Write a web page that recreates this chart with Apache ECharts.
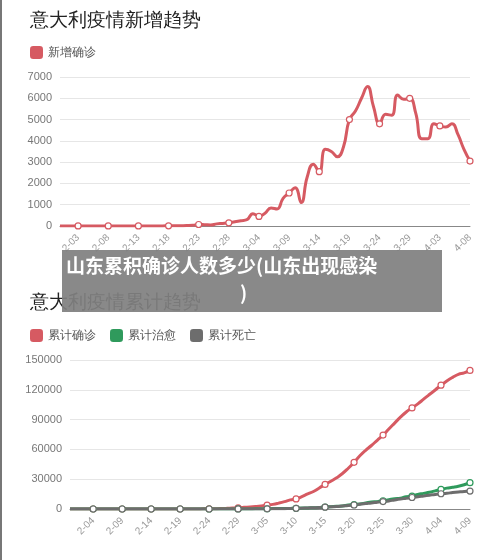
<!DOCTYPE html>
<html><head><meta charset="utf-8">
<script src="https://cdn.jsdelivr.net/npm/echarts@6/dist/echarts.min.js"></script>
<style>html,body{margin:0;padding:0;background:#fff}#c{width:500px;height:560px}</style>
</head><body><div id="c"></div>
<script>
function dates(startM, startD, n){var r=[],m=startM,d=startD,len={1:31,2:29,3:31,4:30};for(var i=0;i<n;i++){r.push(m+'-'+(d<10?'0'+d:d));d++;if(d>len[m]){d=1;m++;}}return r;}
const dailyDates = dates(1,31,69);   // 1-31 .. 4-08
const newCases = [0,0,0,3,2,1,3,2,3,5,3,4,4,5,3,3,4,5,8,10,15,20,30,70,60,50,100,120,150,200,250,300,580,450,600,850,800,1300,1550,1800,1100,2300,2900,2550,3600,3500,3250,3700,5000,5400,6000,6550,5600,4800,5250,5200,6150,5950,6000,5300,4100,4100,4800,4700,4650,4800,4300,3600,3050];
const cumDates = dates(1,31,70);     // 1-31 .. 4-09
const cumConfirmed = [3,3,3,3,3,3,3,3,3,3,3,3,3,3,3,3,3,3,3,3,3,3,80,160,230,330,450,650,890,1130,1700,2040,2500,3090,3860,4640,5880,7380,9170,10150,12460,15110,17660,21160,24750,27980,31500,35710,41040,47020,53580,59140,63930,69180,74390,80540,86500,92470,97690,101740,105790,110570,115240,119830,124630,128950,132550,135590,137000,139500];
const cumRecovered = [0,0,0,0,0,0,0,0,0,0,0,0,0,0,0,0,0,0,0,0,0,0,0,0,1,1,1,40,46,46,50,83,149,160,276,414,523,589,622,724,1004,1045,1258,1439,1966,2335,2749,2941,4025,4440,5129,6072,7024,7432,8326,9362,10361,10950,12384,13030,14620,15729,16847,18278,19758,20996,21815,22837,24392,26500];
const cumDeaths = [0,0,0,0,0,0,0,0,0,0,0,0,0,0,0,0,0,0,0,0,0,1,2,3,7,10,12,17,21,29,34,52,79,107,148,197,233,366,463,631,827,1016,1266,1441,1809,2158,2503,2978,3405,4032,4825,5476,6077,6820,7503,8165,9134,10023,10779,11591,12428,13155,13915,14681,15362,15887,16523,17127,17669,18000];

const red='#d65a62', green='#2f9a5c', gray='#6d6d6d';
const axLabel={color:'#999',fontSize:10,rotate:45,margin:10};
const chart=echarts.init(document.getElementById('c'));
function sym(mod){return function(v,p){return p.dataIndex%5===mod?6:0;};}
function ser(name,xi,data,color,mod){return {name:name,type:'line',xAxisIndex:xi,yAxisIndex:xi,data:data,smooth:true,showAllSymbol:true,symbol:'circle',symbolSize:sym(mod),itemStyle:{color:'#fff',borderColor:color,borderWidth:1.2},lineStyle:{width:3,color:color},color:color};}
const yLab={color:'#777',fontSize:11,formatter:function(v){return String(v);}};
chart.setOption({
  animation:false,
  title:[
    {text:'意大利疫情新增趋势',left:25,top:6,textStyle:{fontSize:19,fontWeight:'normal',color:'#222'}},
    {text:'意大利疫情累计趋势',left:25,top:288,textStyle:{fontSize:19,fontWeight:'normal',color:'#222'}}
  ],
  legend:[
    {data:[{name:'新增确诊',itemStyle:{color:red,borderWidth:0}}],left:25,top:41,icon:'roundRect',itemWidth:13,itemHeight:13,textStyle:{fontSize:12,color:'#555'}},
    {data:[{name:'累计确诊',itemStyle:{color:red,borderWidth:0}},{name:'累计治愈',itemStyle:{color:green,borderWidth:0}},{name:'累计死亡',itemStyle:{color:gray,borderWidth:0}}],left:25,top:324,icon:'roundRect',itemWidth:13,itemHeight:13,itemGap:14,textStyle:{fontSize:12,color:'#555'}}
  ],
  grid:[
    {left:60,right:30,top:77,height:149},
    {left:70,right:30,top:360,height:149}
  ],
  xAxis:[
    {gridIndex:0,type:'category',boundaryGap:false,data:dailyDates,axisTick:{show:false},axisLine:{lineStyle:{color:'#888'}},axisLabel:Object.assign({interval:function(i){return i%5===3;}},axLabel)},
    {gridIndex:1,type:'category',boundaryGap:false,data:cumDates,axisTick:{show:false},axisLine:{lineStyle:{color:'#888'}},axisLabel:Object.assign({interval:function(i){return i%5===4;}},axLabel)}
  ],
  yAxis:[
    {gridIndex:0,type:'value',min:0,max:7000,interval:1000,axisLabel:yLab,splitLine:{lineStyle:{color:'#e6e6e6'}}},
    {gridIndex:1,type:'value',min:0,max:150000,interval:30000,axisLabel:yLab,splitLine:{lineStyle:{color:'#e6e6e6'}}}
  ],
  series:[
    ser('新增确诊',0,newCases,red,3),
    ser('累计确诊',1,cumConfirmed,red,4),
    ser('累计治愈',1,cumRecovered,green,4),
    ser('累计死亡',1,cumDeaths,gray,4)
  ],
  graphic:[
    {type:'rect',left:0,top:0,shape:{width:2,height:560},style:{fill:'#777'}},
    {type:'rect',left:62,top:250,z:100,shape:{width:380,height:62},style:{fill:'rgba(128,128,128,0.93)'}},
    {type:'text',left:66,top:256,z:101,style:{text:'山东累积确诊人数多少(山东出现感染',fill:'#fff',font:'bold 19px "Noto Sans CJK SC"'}},
    {type:'text',left:240,top:283,z:101,style:{text:')',fill:'#fff',font:'bold 19px "Noto Sans CJK SC"'}}
  ]
});
</script></body></html>
